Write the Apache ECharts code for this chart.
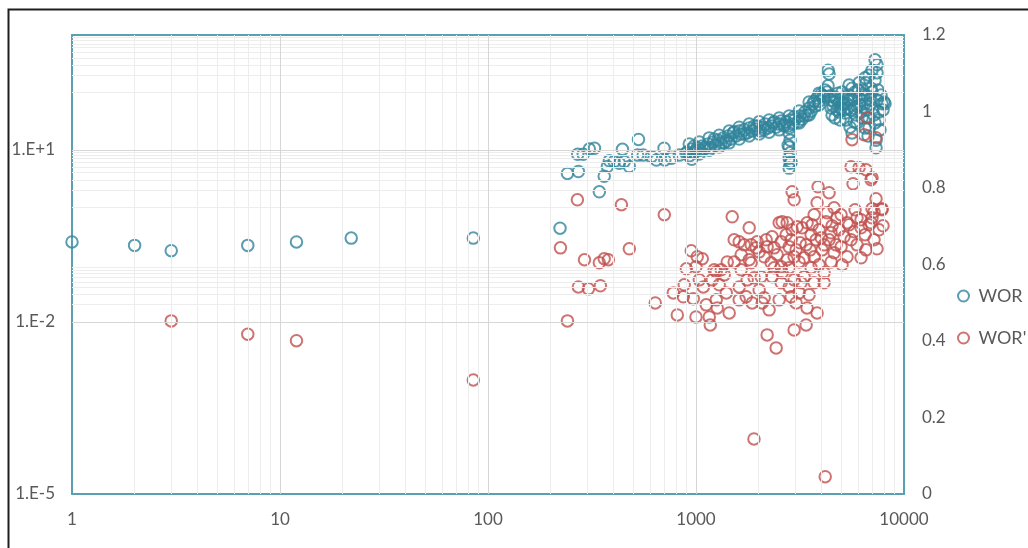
<!DOCTYPE html>
<html>
<head>
<meta charset="utf-8">
<script src="https://cdn.jsdelivr.net/npm/echarts@6/dist/echarts.min.js"></script>
<style>
  html, body { margin: 0; padding: 0; background: #fff; }
  #chart { width: 1028px; height: 548px; }
</style>
</head>
<body>
<div id="chart"></div>
<script>
// WOR (right axis, linear) : [time, value]
const worData = [
  [1, 0.659], [2, 0.650], [3, 0.636], [7, 0.650], [12, 0.659], [22, 0.669], [85, 0.669],
  [222, 0.695], [241, 0.838], [272, 0.843], [270, 0.888], [287, 0.888], [307, 0.902], [325, 0.904],
  [343, 0.790], [362, 0.831], [375, 0.856], [383, 0.871], [404, 0.869], [428, 0.865], [443, 0.901],
  [452, 0.869], [478, 0.856], [529, 0.927], [524, 0.886], [557, 0.886], [610, 0.882], [645, 0.873],
  [702, 0.904], [708, 0.873], [763, 0.878], [831, 0.886], [895, 0.891], [954, 0.875], [1000, 0.899],
  // main band
  [908, 0.894], [949, 0.902], [981, 0.892], [1014, 0.905], [1049, 0.899], [1072, 0.910], [1107, 0.907],
  [1145, 0.915], [1171, 0.905], [1210, 0.920], [1237, 0.912], [1279, 0.925], [1322, 0.918], [1352, 0.931],
  [1398, 0.923], [1428, 0.936], [1476, 0.928], [1509, 0.944], [1560, 0.936], [1613, 0.949], [1649, 0.941],
  [1705, 0.952], [1762, 0.944], [1802, 0.957], [1863, 0.949], [1925, 0.954], [1968, 0.962], [2034, 0.949],
  [2104, 0.959], [2151, 0.967], [2222, 0.957], [2297, 0.962], [2349, 0.970], [2428, 0.959], [2511, 0.967],
  [2567, 0.975], [2653, 0.965], [2712, 0.973], [2773, 0.962], [2835, 0.978],
  [928, 0.884], [928, 0.915], [1037, 0.889], [1037, 0.920], [1158, 0.899], [1158, 0.931], [1293, 0.907],
  [1293, 0.938], [1444, 0.918], [1444, 0.949], [1613, 0.928], [1613, 0.959], [1802, 0.936], [1802, 0.967],
  [2012, 0.941], [2012, 0.973], [2247, 0.946], [2247, 0.978], [2511, 0.952], [2511, 0.983], [2804, 0.957],
  [2804, 0.988], [3132, 0.970], [3132, 1.001], [3498, 0.991], [3498, 1.025], [3907, 1.017], [3907, 1.048],
  [981, 0.910], [1095, 0.902], [1223, 0.928], [1367, 0.918], [1526, 0.947], [1705, 0.941], [1904, 0.962],
  [2127, 0.952], [2375, 0.973], [2653, 0.962], [2963, 0.986], [3310, 0.988], [3697, 1.027], [4129, 1.038],
  // dip
  [2804, 0.944], [2835, 0.925], [2804, 0.907], [2835, 0.892], [2804, 0.878], [2835, 0.865], [2804, 0.852],
  [2773, 0.912], [2867, 0.868],
  // rise
  [2930, 0.967], [2996, 0.980], [3098, 0.973], [3167, 0.988], [3237, 0.980], [3347, 0.999], [3421, 0.990],
  [3498, 1.009], [3576, 1.001], [3656, 1.020], [3738, 1.014], [3821, 1.035], [3907, 1.027], [3995, 1.046],
  [4084, 1.041], [4175, 1.056], [4268, 1.051], [4316, 1.067], [4316, 1.108], [4364, 1.098],
  // late cluster
  [4462, 1.030], [4561, 1.014], [4663, 1.038], [4767, 1.004], [4874, 1.022], [4983, 1.009], [5094, 1.035],
  [5208, 0.996], [5325, 1.020], [5444, 1.043], [5566, 1.004], [5690, 1.030], [5817, 1.051], [5947, 1.014],
  [6080, 1.035], [6216, 0.999], [6355, 1.056], [6497, 1.020], [6642, 1.041], [6791, 0.983], [6943, 1.061],
  [7098, 1.009], [7257, 1.082], [7419, 1.030], [7585, 0.999], [7841, 1.020], [8016, 1.025],
  [4511, 0.991], [4928, 0.978], [5505, 0.959], [5627, 0.944], [5947, 0.970], [6497, 0.957], [7257, 0.970],
  [7585, 0.978], [7669, 0.952], [7338, 0.925], [7338, 0.905], [6716, 0.936],
  [5444, 1.069], [6080, 1.075], [6497, 1.088], [6791, 1.095], [7020, 1.108], [7257, 1.135], [7419, 1.122],
  [7419, 1.101], [6570, 1.075], [5627, 1.061],
  [4413, 1.041], [4612, 1.025], [4820, 1.048], [5151, 1.020], [5384, 1.030], [5753, 1.009], [6285, 1.030],
  [6867, 1.020],
  [4462, 1.009], [4663, 0.983], [4874, 0.999], [5038, 1.051], [5266, 0.978], [5384, 1.009], [5566, 1.030],
  [5883, 0.991], [6014, 1.056], [6148, 1.017], [6285, 0.983], [6426, 1.043], [6642, 1.004], [6867, 1.030],
  [7020, 1.051], [7177, 0.991], [7501, 1.056], [7756, 1.043], [7928, 1.004], [8105, 1.020], [4767, 1.030],
  [5151, 1.004], [5753, 0.973], [6791, 0.957]
];

// WOR' (left axis, log) : [time, value]
const dworData = [
  [3, 0.0104], [7, 0.0061], [12, 0.0047], [85, 0.00097], [1900, 0.000091], [4180, 0.00002],
  [223, 0.195], [241, 0.0104], [269, 1.34], [272, 0.0407], [291, 0.121], [304, 0.0376], [343, 0.107],
  [347, 0.0425], [362, 0.126], [379, 0.121], [438, 1.10], [478, 0.188], [637, 0.0214], [704, 0.736],
  [778, 0.032], [813, 0.0132], [869, 0.0273], [899, 0.084], [949, 0.173], [970, 0.0254], [1000, 0.091],
  [1000, 0.0122], [1014, 0.136], [1072, 0.126], [1084, 0.0407], [1120, 0.0198], [1158, 0.0122],
  [1171, 0.00885], [1197, 0.054], [1251, 0.0242], [1251, 0.0745],
  [2899, 1.85], [2963, 1.34], [3864, 2.26], [4364, 1.78], [5689, 2.55], [6943, 3.0], [3821, 1.19],
  [7338, 1.40], [7841, 0.935], [7020, 0.935], [7020, 0.652], [1493, 0.679], [1802, 0.436], [1526, 0.269],
  [1613, 0.248], [1842, 0.220], [1968, 0.248], [1947, 0.195], [2198, 0.203], [2375, 0.195], [2511, 0.533],
  [2595, 0.555], [2743, 0.533], [2899, 0.403], [3064, 0.454], [3421, 0.533], [3697, 0.736], [4268, 0.796],
  [4767, 0.652], [5325, 0.533], [5947, 0.652], [6216, 0.436], [7419, 0.188], [6570, 0.180], [6216, 0.131],
  [5325, 0.136], [5038, 0.0986], [4612, 0.160], [4129, 0.220], [3697, 0.136], [3310, 0.131], [2963, 0.136],
  [2743, 0.121], [2567, 0.091], [2297, 0.107], [2127, 0.136], [1322, 0.0807], [1223, 0.0807], [1413, 0.111],
  [1649, 0.0807], [1762, 0.054], [1904, 0.0585], [2057, 0.061], [2323, 0.061], [2595, 0.0716], [2963, 0.054],
  [3310, 0.061], [3697, 0.0479], [4129, 0.0479], [4129, 0.0716], [1613, 0.0407], [1743, 0.0273],
  [1863, 0.0214], [2080, 0.0214], [2127, 0.0262], [1398, 0.032], [1265, 0.0175], [1444, 0.0143],
  [2867, 0.0273], [3132, 0.032], [3029, 0.0214], [3421, 0.0175], [3821, 0.0143], [2963, 0.00724],
  [3384, 0.00885], [2198, 0.00593], [2429, 0.00352], [2804, 0.0407], [3202, 0.0479], [2567, 0.0479],
  [1842, 0.107], [1649, 0.148], [4984, 0.203], [5566, 0.269], [4462, 0.357], [3995, 0.292], [3576, 0.330],
  [3167, 0.239], [2804, 0.203], [2567, 0.248], [2323, 0.304], [6943, 0.533],
  [6642, 36.2], [5627, 15.0], [6426, 18.3], [7338, 16.2], [5566, 5.06], [6080, 4.86], [6570, 4.48],
  [7020, 3.25], [7841, 0.90], [7177, 0.83],
  [1705, 0.220], [2012, 0.166], [2174, 0.269], [2455, 0.148], [2712, 0.330], [2867, 0.269], [3029, 0.180],
  [3237, 0.436], [3384, 0.220], [3537, 0.180], [3616, 0.492], [3780, 0.269], [3907, 0.403], [4039, 0.180],
  [4222, 0.555], [4364, 0.269], [4511, 0.472], [4716, 0.220], [4874, 0.403], [5151, 0.304], [5444, 0.492],
  [5753, 0.372], [5947, 0.220], [6216, 0.601], [6497, 0.330], [6791, 0.492], [7177, 0.269], [7585, 0.403],
  [7928, 0.472], [5817, 0.90], [4983, 0.736], [4612, 0.973], [1802, 0.121], [1526, 0.111], [1367, 0.066],
  [2012, 0.0361], [2375, 0.0875], [2804, 0.0875], [3132, 0.111], [3576, 0.0875], [3907, 0.0986],
  [4462, 0.111], [3498, 0.0296], [2511, 0.0242], [2247, 0.0162], [1613, 0.0242], [1037, 0.054],
  [878, 0.0442], [1293, 0.0442]
];

const xLabels = ['1', '10', '100', '1000', '10000'];
const yLeftLabelExps = [-5, -2, 1];
const seriesNames = ['WOR', "WOR'"];

// gridlines (Excel-style log minor lines)
const xMajorGrid = [10, 100, 1000];
const xMinorGrid = [];
[1, 10, 100, 1000].forEach((d) => {
  for (let k = 2; k <= 9; k++) xMinorGrid.push(d * k);
});
const yMajorGrid = [0.01, 10];
const yMinorGrid = [];
[1e-4, 1, 100].forEach((d) => {
  for (let k = 1; k <= 9; k++) yMinorGrid.push(d * k);
});
for (let k = 2; k <= 9; k++) yMinorGrid.push(0.01 * k);

const TEAL = '#31849b';
const RED = '#c0504d';
const AXIS = '#5a9fb2';
const FONT = 'Lato';

const chart = echarts.init(document.getElementById('chart'));

const gridLines = [
  ...xMinorGrid.map((v) => ({ xAxis: v, lineStyle: { color: '#ededed' } })),
  ...yMinorGrid.map((v) => ({ yAxis: v, lineStyle: { color: '#ededed' } })),
  ...xMajorGrid.map((v) => ({ xAxis: v, lineStyle: { color: '#d6d6d6' } })),
  ...yMajorGrid.map((v) => ({ yAxis: v, lineStyle: { color: '#d6d6d6' } })),
];

const labelStyle = { fontFamily: FONT, fontSize: 17, color: '#595959' };

const option = {
  animation: false,
  backgroundColor: '#fff',
  grid: { left: 72, right: 124, top: 35, bottom: 54 },
  xAxis: [
    {
      type: 'log', min: 1, max: 10000, position: 'bottom', z: 1,
      axisLine: { show: true, lineStyle: { color: AXIS, width: 2 } },
      axisTick: { show: false },
      splitLine: { show: false },
      axisLabel: {
        ...labelStyle, margin: 17, interval: 0,
        formatter: (v) => xLabels[Math.round(Math.log10(v))] || '',
      },
    },
    {
      type: 'log', min: 1, max: 10000, position: 'top', z: 1,
      axisLine: { show: true, lineStyle: { color: AXIS, width: 2 } },
      axisTick: { show: false }, axisLabel: { show: false }, splitLine: { show: false },
    },
  ],
  yAxis: [
    {
      type: 'log', min: 1e-5, max: 1e3, position: 'left', z: 1,
      axisLine: { show: true, lineStyle: { color: AXIS, width: 2 } },
      axisTick: { show: false },
      splitLine: { show: false },
      axisLabel: {
        ...labelStyle, margin: 17, interval: 0,
        formatter: (v) => {
          const e = Math.round(Math.log10(v));
          if (!yLeftLabelExps.includes(e)) return '';
          return '1.E' + (e < 0 ? '-' : '+') + Math.abs(e);
        },
      },
    },
    {
      type: 'value', min: 0, max: 1.2, interval: 0.2, position: 'right', z: 1,
      axisLine: { show: true, lineStyle: { color: AXIS, width: 2 } },
      axisTick: { show: false },
      splitLine: { show: false },
      axisLabel: { ...labelStyle, margin: 18 },
    },
  ],
  legend: {
    orient: 'vertical',
    left: 952,
    top: 282,
    itemWidth: 20,
    itemHeight: 11,
    itemGap: 24,
    data: seriesNames,
    textStyle: { fontFamily: FONT, fontSize: 18, color: '#595959' },
  },
  graphic: [
    {
      type: 'rect', left: 6, top: 7, silent: true, z: 100,
      shape: { width: 1100, height: 700 },
      style: { fill: 'none', stroke: '#1e1e1e', lineWidth: 2 },
    },
  ],
  series: [
    {
      name: 'grid',
      type: 'scatter',
      xAxisIndex: 0, yAxisIndex: 0,
      data: [],
      z: 0,
      silent: true,
      markLine: {
        silent: true,
        symbol: 'none',
        label: { show: false },
        animation: false,
        lineStyle: { width: 1, type: 'solid' },
        data: gridLines,
      },
    },
    {
      name: seriesNames[0],
      type: 'scatter',
      xAxisIndex: 0, yAxisIndex: 1,
      symbol: 'circle', symbolSize: 11.5,
      z: 3,
      itemStyle: { color: 'rgba(0,0,0,0)', borderColor: TEAL, borderWidth: 2 },
      data: worData,
    },
    {
      name: seriesNames[1],
      type: 'scatter',
      xAxisIndex: 0, yAxisIndex: 0,
      symbol: 'circle', symbolSize: 11.5,
      z: 3,
      itemStyle: { color: 'rgba(0,0,0,0)', borderColor: RED, borderWidth: 2 },
      data: dworData,
    },
  ],
};

chart.setOption(option);
</script>
</body>
</html>
